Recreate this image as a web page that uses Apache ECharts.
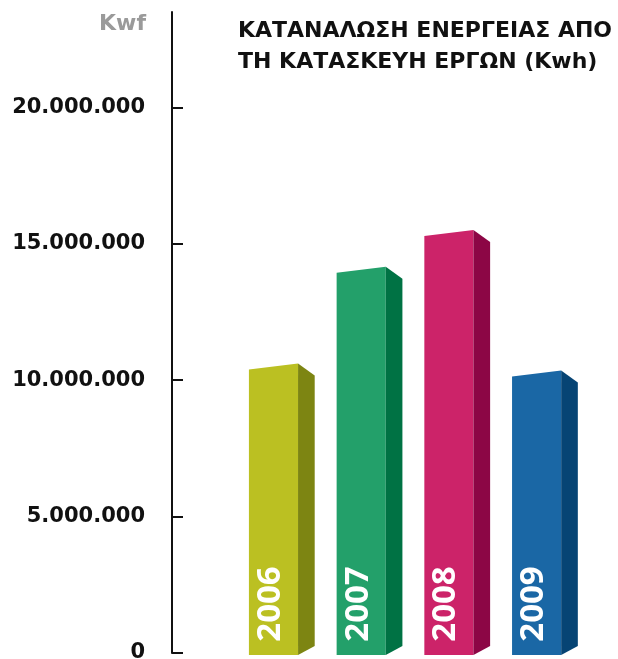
<!DOCTYPE html>
<html>
<head>
<meta charset="utf-8">
<script src="https://cdn.jsdelivr.net/npm/echarts@6/dist/echarts.min.js"></script>
<style>
  html, body { margin: 0; padding: 0; background: #fff; }
  #main { width: 618px; height: 659px; }
</style>
</head>
<body>
<div id="main"></div>
<script>
// δεδομένα
const years = ['2006', '2007', '2008', '2009'];
const consumption = [10500000, 14050000, 15400000, 10250000];
const yTicks = [0, 5000000, 10000000, 15000000, 20000000];

const frontColors = ['#bbc022', '#23a06a', '#cc2369', '#1a67a5'];
const sideColors = ['#7d8512', '#007244', '#8c0645', '#064474'];

const FONT = '"DejaVu Sans", sans-serif';
const YEAR_FONT = '"Open Sans", "Noto Sans", sans-serif';

let myChart = echarts.init(document.getElementById('main'));

function fmt(v) {
    return String(v).replace(/\B(?=(\d{3})+(?!\d))/g, '.');
}

function renderBar(params, api) {
    const i = params.dataIndex;
    const top = api.coord([api.value(0), api.value(1)]);
    const base = api.coord([api.value(0), 0]);
    const step = api.size([1, 0])[0];
    const fw = step * 0.56, sw = step * 0.19;
    const l = top[0] - fw / 2, r = top[0] + fw / 2;
    const yt = top[1], yb = base[1] + 2;
    return {
        type: 'group',
        children: [
            {
                type: 'polygon',
                shape: { points: [[l, yt + 3], [r, yt - 3], [r, yb], [l, yb]] },
                style: { fill: frontColors[i] }
            },
            {
                type: 'polygon',
                shape: { points: [[r, yt - 3], [r + sw, yt + 9], [r + sw, yb - 9], [r, yb]] },
                style: { fill: sideColors[i] }
            },
            {
                type: 'text',
                x: top[0] - 3,
                y: yb - 51,
                rotation: Math.PI / 2,
                style: {
                    text: years[i],
                    fill: '#fff',
                    font: 'bold 33px ' + YEAR_FONT,
                    align: 'center',
                    verticalAlign: 'middle'
                }
            }
        ]
    };
}

option = {
    backgroundColor: '#fff',
    animation: false,
    title: {
        text: 'ΚΑΤΑΝΑΛΩΣΗ ΕΝΕΡΓΕΙΑΣ ΑΠΟ\nΤΗ ΚΑΤΑΣΚΕΥΗ ΕΡΓΩΝ (Kwh)',
        left: 233,
        top: 11,
        textStyle: {
            color: '#111',
            fontFamily: FONT,
            fontWeight: 'bold',
            fontSize: 22,
            lineHeight: 31
        }
    },
    graphic: [
        {
            type: 'text',
            right: 618 - 146,
            top: 13,
            style: {
                text: 'Kwf',
                fill: '#9a9a9a',
                font: 'bold 22px ' + FONT
            }
        }
    ],
    grid: {
        left: 172,
        right: 0,
        top: 12,
        bottom: 6,
        outerBoundsMode: 'none'
    },
    xAxis: {
        type: 'value',
        min: -1.157,
        max: 3.928,
        show: false
    },
    yAxis: {
        type: 'value',
        min: 0,
        max: 23500000,
        interval: 5000000,
        axisLine: { show: true, onZero: false, lineStyle: { color: '#111', width: 2 } },
        axisTick: {
            show: true,
            inside: true,
            length: 11,
            customValues: yTicks,
            lineStyle: { color: '#111', width: 2 }
        },
        axisLabel: {
            customValues: yTicks,
            margin: 27,
            color: '#111',
            fontFamily: FONT,
            fontWeight: 'bold',
            fontSize: 21,
            verticalAlign: 'middle',
            verticalAlignMinLabel: 'middle',
            formatter: function (v) { return v % 5000000 === 0 ? fmt(v) : ''; }
        },
        splitLine: { show: false }
    },
    series: [
        {
            type: 'custom',
            renderItem: renderBar,
            data: consumption.map(function (v, i) { return [i, v]; })
        }
    ]
};

myChart.setOption(option);
</script>
</body>
</html>
